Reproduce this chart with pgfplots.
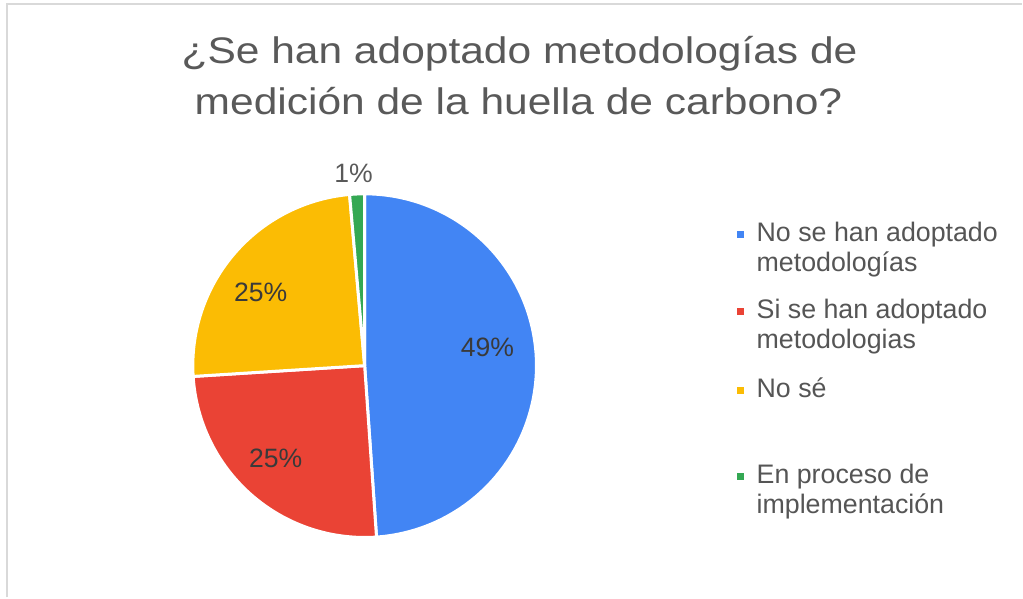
\documentclass[border=0pt]{standalone}
\usepackage{pgfplots}
\pgfplotsset{compat=1.18}
\usepackage{fontspec}
\setmainfont{Liberation Sans}
\usepackage{graphicx}
\definecolor{gblue}{HTML}{4285F4}
\definecolor{gred}{HTML}{EA4335}
\definecolor{gyellow}{HTML}{FBBC04}
\definecolor{ggreen}{HTML}{34A853}
\definecolor{titlegray}{HTML}{595959}
\definecolor{labelgray}{HTML}{3A3A3A}
\definecolor{leggray}{HTML}{555555}
\definecolor{framegray}{HTML}{D9D9D9}
% pie data (percent)
\def\pA{48.9}% No se han adoptado metodologías
\def\pB{25.1}% Si se han adoptado metodologias
\def\pC{24.6}% No sé
\def\pD{1.4}%  En proceso de implementación
\pgfmathsetmacro\aA{3.6*\pA}
\pgfmathsetmacro\aB{\aA+3.6*\pB}
\pgfmathsetmacro\aC{\aB+3.6*\pC}
\pgfmathsetmacro\aD{\aC+3.6*\pD}
\begin{document}
\begin{tikzpicture}
\begin{axis}[
  width=511.5pt, height=299pt, scale only axis,
  xmin=0, xmax=1023, ymin=0, ymax=598, y dir=reverse,
  hide axis, clip=false,
]
\path (rel axis cs:0,0) rectangle (rel axis cs:1,1);
\draw[framegray, line width=1pt] (axis cs:7,598) -- (axis cs:7,4.5) -- (axis cs:1023,4.5);
% slices
\addplot[fill=gblue, draw=white, line width=1.5pt, line join=round, domain=0:\aA, samples=120, variable=\t]
  ({365+172*sin(\t)},{366-172*cos(\t)}) -- (axis cs:365,366) -- cycle;
\addplot[fill=gred, draw=white, line width=1.5pt, line join=round, domain=\aA:\aB, samples=80, variable=\t]
  ({365+172*sin(\t)},{366-172*cos(\t)}) -- (axis cs:365,366) -- cycle;
\addplot[fill=gyellow, draw=white, line width=1.5pt, line join=round, domain=\aB:\aC, samples=80, variable=\t]
  ({365+172*sin(\t)},{366-172*cos(\t)}) -- (axis cs:365,366) -- cycle;
\addplot[fill=ggreen, draw=white, line width=1.5pt, line join=round, domain=\aC:\aD, samples=10, variable=\t]
  ({365+172*sin(\t)},{366-172*cos(\t)}) -- (axis cs:365,366) -- cycle;
% slice labels
\node[labelgray, font=\fontsize{13.3}{16}\selectfont] at (axis cs:488,348) {49\%};
\node[labelgray, font=\fontsize{13.3}{16}\selectfont] at (axis cs:261,293) {25\%};
\node[labelgray, font=\fontsize{13.3}{16}\selectfont] at (axis cs:276,459) {25\%};
\node[titlegray, font=\fontsize{13.3}{16}\selectfont] at (axis cs:354,174) {1\%};
% title
\node[titlegray, anchor=base, inner sep=0pt] at (axis cs:520,64) {\scalebox{1.15}[1]{\fontsize{18.5}{22}\selectfont ¿Se han adoptado metodologías de}};
\node[titlegray, anchor=base, inner sep=0pt] at (axis cs:519,115) {\scalebox{1.15}[1]{\fontsize{18.5}{22}\selectfont medición de la huella de carbono?}};
% legend
\fill[gblue] (axis cs:738,231.5) rectangle (axis cs:745,238.5);
\fill[gred] (axis cs:738,308) rectangle (axis cs:745,315);
\fill[gyellow] (axis cs:738,387.5) rectangle (axis cs:745,394.5);
\fill[ggreen] (axis cs:738,473) rectangle (axis cs:745,480);
\begin{scope}[every node/.style={leggray, anchor=base west, inner sep=0pt, font=\fontsize{13.4}{16}\selectfont}]
\node at (axis cs:757,242) {No se han adoptado};
\node at (axis cs:757,272) {metodologías};
\node at (axis cs:757,319) {Si se han adoptado};
\node at (axis cs:757,349) {metodologias};
\node at (axis cs:757,398) {No sé};
\node at (axis cs:757,483.5) {En proceso de};
\node at (axis cs:757,513.5) {implementación};
\end{scope}
\end{axis}
\end{tikzpicture}
\end{document}
